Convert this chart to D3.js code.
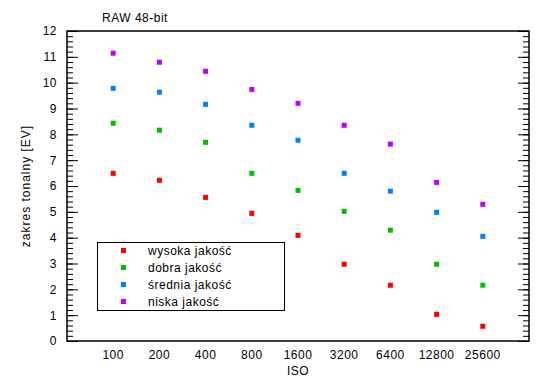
<!DOCTYPE html>
<html>
<head>
<meta charset="utf-8">
<script src="https://cdn.jsdelivr.net/npm/d3@7"></script>
<style>
  body { margin: 0; background: #fff; }
  text { font-family: "Liberation Sans", Arial, sans-serif; font-size: 12px; letter-spacing: 0.5px; fill: #000; }
  .domain { display: none; }
</style>
</head>
<body>
<div id="chart"></div>
<script>
const isoLabels = ["100", "200", "400", "800", "1600", "3200", "6400", "12800", "25600"]
const seriesNames = ["wysoka jakość", "dobra jakość", "średnia jakość", "niska jakość"]
const seriesColors = ["#ff0000", "#00c000", "#0080ff", "#c000ff"]

const wysoka = [6.49, 6.22, 5.56, 4.94, 4.09, 2.97, 2.16, 1.03, 0.57]
const dobra = [8.43, 8.16, 7.69, 6.49, 5.83, 5.02, 4.29, 2.97, 2.16]
const srednia = [9.78, 9.63, 9.16, 8.35, 7.77, 6.49, 5.80, 4.98, 4.05]
const niska = [11.14, 10.79, 10.44, 9.74, 9.20, 8.35, 7.62, 6.14, 5.29]

const seriesValues = [wysoka, dobra, srednia, niska]

const width = 550, height = 389
const margin = {top: 31, right: 21, bottom: 48, left: 67}

const svg = d3.select("#chart").append("svg")
  .attr("width", width)
  .attr("height", height)

const x = d3.scalePoint()
  .domain(isoLabels)
  .range([margin.left, width - margin.right])
  .padding(1)

const y = d3.scaleLinear()
  .domain([0, 12])
  .range([height - margin.bottom, margin.top])

// minor + major ticks, both sides, pointing inward
svg.append("g")
  .attr("transform", `translate(${margin.left},0)`)
  .call(d3.axisLeft(y).ticks(60).tickSize(-6).tickFormat(""))
svg.append("g")
  .attr("transform", `translate(${margin.left},0)`)
  .call(d3.axisLeft(y).ticks(12).tickSize(-11).tickPadding(10))
svg.append("g")
  .attr("transform", `translate(${width - margin.right},0)`)
  .call(d3.axisRight(y).ticks(60).tickSize(-6).tickFormat(""))
svg.append("g")
  .attr("transform", `translate(${width - margin.right},0)`)
  .call(d3.axisRight(y).ticks(12).tickSize(-11).tickFormat(""))

svg.selectAll(".tick line").attr("stroke", "#000").attr("stroke-width", 1)
svg.selectAll(".tick text").style("font-size", "12px")

// x labels (no ticks)
svg.append("g")
  .selectAll("text")
  .data(isoLabels)
  .join("text")
    .attr("x", d => x(d))
    .attr("y", height - margin.bottom + 18)
    .attr("text-anchor", "middle")
    .text(d => d)

// frame
svg.append("rect")
  .attr("x", margin.left)
  .attr("y", margin.top)
  .attr("width", width - margin.left - margin.right)
  .attr("height", height - margin.top - margin.bottom)
  .attr("fill", "none")
  .attr("stroke", "#000")
  .attr("stroke-width", 1.5)

// points
const pointSize = 5
seriesValues.forEach((vals, si) => {
  svg.append("g")
    .selectAll("rect")
    .data(vals)
    .join("rect")
      .attr("x", (d, i) => x(isoLabels[i]) - pointSize / 2)
      .attr("y", d => y(d) - pointSize / 2)
      .attr("width", pointSize)
      .attr("height", pointSize)
      .attr("fill", seriesColors[si])
})

// title and axis labels
svg.append("text")
  .attr("x", 102)
  .attr("y", 22)
  .text("RAW 48-bit")

svg.append("text")
  .attr("x", (margin.left + width - margin.right) / 2)
  .attr("y", 375)
  .attr("text-anchor", "middle")
  .text("ISO")

svg.append("text")
  .attr("transform", `translate(30,${(margin.top + height - margin.bottom) / 2}) rotate(-90)`)
  .attr("text-anchor", "middle")
  .style("letter-spacing", "1px")
  .text("zakres tonalny [EV]")

// legend
const legend = svg.append("g")
legend.append("rect")
  .attr("x", 97.5)
  .attr("y", 242.5)
  .attr("width", 187)
  .attr("height", 68)
  .attr("fill", "#fff")
  .attr("stroke", "#000")
  .attr("stroke-width", 1)

seriesNames.forEach((name, i) => {
  const ly = 250.5 + i * 17
  legend.append("rect")
    .attr("x", 121)
    .attr("y", ly - 2.5)
    .attr("width", pointSize)
    .attr("height", pointSize)
    .attr("fill", seriesColors[i])
  legend.append("text")
    .attr("x", 148)
    .attr("y", ly + 4.5)
    .text(name)
})
</script>
</body>
</html>
